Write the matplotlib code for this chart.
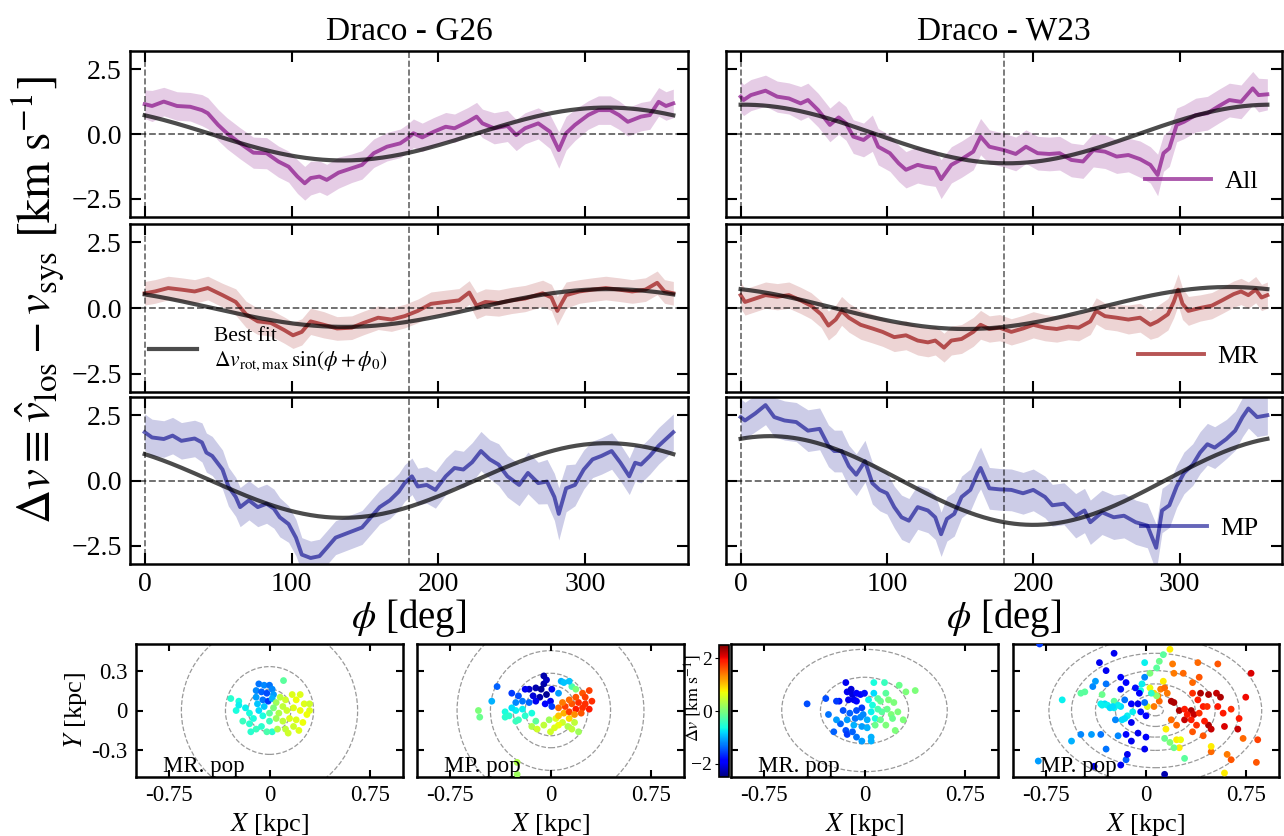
"""Draco rotation signal: running-mean velocity gradients vs position angle + spatial maps."""

import matplotlib

matplotlib.use("Agg")
import matplotlib.pyplot as plt
import numpy as np
from matplotlib.patches import Ellipse

plt.rcParams["font.family"] = ["Liberation Serif", "DejaVu Serif"]
plt.rcParams["mathtext.fontset"] = "stix"

# ---------------------------------------------------------------- data
# Draco - G26, running mean of delta v (km/s) vs position angle phi (deg)
phi_g26_all = [0, 5, 13, 22, 31, 39, 43, 50, 56, 65, 74, 83, 91, 98, 104, 109, 113, 119, 124, 132,
               141, 148, 156, 165, 174, 179, 183, 189, 197, 205, 211, 220, 226, 230, 238, 247, 253,
               259, 268, 276, 282, 287, 293, 302, 309, 317, 323, 329, 338, 344, 350, 355, 360]
dv_g26_all = [1.15, 1.08, 1.25, 1.08, 1.05, 0.92, 0.8, 0.35, 0.03, -0.36, -0.72, -0.74, -1.06, -1.26,
              -1.64, -1.9, -1.7, -1.64, -1.77, -1.49, -1.32, -1.19, -0.74, -0.49, -0.36, -0.17, 0.03,
              -0.13, 0.09, 0.28, 0.22, 0.47, 0.67, 0.41, 0.22, 0.31, -0.04, 0.22, 0.41, 0.09, -0.62,
              0.03, 0.35, 0.73, 0.92, 0.92, 0.73, 0.47, 0.67, 0.73, 1.24, 1.08, 1.18]
err_g26_all = [0.55, 0.6, 0.55, 0.55, 0.55, 0.6, 0.6, 0.6, 0.6, 0.6, 0.6, 0.6, 0.6, 0.6, 0.65, 0.65,
               0.65, 0.6, 0.6, 0.6, 0.55, 0.55, 0.55, 0.55, 0.55, 0.55, 0.55, 0.55, 0.55, 0.55, 0.55,
               0.55, 0.55, 0.55, 0.6, 0.6, 0.6, 0.6, 0.6, 0.65, 0.7, 0.65, 0.6, 0.55, 0.55, 0.55,
               0.55, 0.55, 0.55, 0.55, 0.55, 0.55, 0.55]

phi_g26_mr = [0, 7, 16, 25, 34, 43, 53, 62, 69, 77, 86, 95, 101, 107, 113, 122, 131, 141, 149, 159,
              168, 177, 186, 195, 205, 214, 221, 226, 232, 241, 250, 259, 271, 277, 281, 287, 296,
              305, 314, 323, 332, 341, 349, 354, 360]
dv_g26_mr = [0.56, 0.63, 0.76, 0.7, 0.63, 0.76, 0.49, 0.23, -0.24, -0.51, -0.57, -0.84, -1.04, -0.91,
             -0.51, -0.64, -0.78, -0.75, -0.57, -0.37, -0.44, -0.31, -0.11, 0.16, 0.23, 0.29, 0.59,
             0.09, 0.23, 0.19, 0.29, 0.36, 0.56, 0.4, -0.11, 0.49, 0.63, 0.7, 0.76, 0.7, 0.63, 0.7,
             0.96, 0.63, 0.56]
err_g26_mr = [0.45, 0.45, 0.45, 0.45, 0.45, 0.45, 0.45, 0.5, 0.5, 0.5, 0.5, 0.5, 0.5, 0.5, 0.5, 0.5,
              0.45, 0.45, 0.45, 0.45, 0.45, 0.45, 0.45, 0.45, 0.45, 0.45, 0.45, 0.5, 0.5, 0.5, 0.5,
              0.5, 0.5, 0.5, 0.55, 0.5, 0.45, 0.45, 0.45, 0.45, 0.45, 0.45, 0.45, 0.45, 0.45]

phi_g26_mp = [0, 5, 13, 19, 25, 34, 39, 42, 46, 53, 57, 62, 65, 71, 77, 83, 88, 92, 98, 103, 107,
              113, 119, 124, 130, 136, 142, 148, 154, 160, 167, 173, 177, 182, 186, 192, 198, 205,
              211, 217, 223, 229, 235, 241, 247, 255, 261, 268, 274, 279, 282, 287, 293, 299, 305,
              311, 318, 324, 330, 334, 338, 344, 350, 355, 360]
dv_g26_mp = [1.85, 1.65, 1.59, 1.72, 1.52, 1.61, 1.46, 1.07, 0.94, 0.42, -0.23, -0.63, -1.02, -0.76,
             -1.02, -0.89, -1.08, -1.41, -1.67, -2.19, -2.84, -2.97, -2.9, -2.58, -2.19, -2.06, -1.93,
             -1.8, -1.41, -1.02, -0.76, -0.43, -0.1, 0.16, -0.23, -0.17, -0.36, 0.16, 0.48, 0.42,
             0.7, 1.13, 0.81, 0.61, 0.16, -0.17, 0.29, -0.1, -0.04, -0.63, -1.28, -0.3, -0.17, 0.42,
             0.81, 0.94, 1.13, 0.68, 0.16, 0.68, 0.61, 0.94, 1.33, 1.59, 1.85]
err_g26_mp = [0.7, 0.7, 0.7, 0.7, 0.7, 0.7, 0.75, 0.75, 0.75, 0.75, 0.75, 0.75, 0.75, 0.75, 0.75,
              0.75, 0.75, 0.75, 0.7, 0.7, 0.65, 0.65, 0.65, 0.65, 0.65, 0.65, 0.65, 0.65, 0.65, 0.65,
              0.7, 0.7, 0.7, 0.7, 0.7, 0.7, 0.7, 0.7, 0.7, 0.7, 0.75, 0.75, 0.75, 0.8, 0.8, 0.8, 0.8,
              0.8, 0.85, 0.9, 1.0, 0.9, 0.8, 0.75, 0.7, 0.7, 0.7, 0.7, 0.7, 0.7, 0.7, 0.7, 0.7, 0.7,
              0.7]

# Draco - W23
phi_w23_all = [0, 2, 7, 17, 25, 33, 41, 46, 53, 61, 67, 72, 77, 84, 90, 94, 102, 108, 113, 121, 126,
               133, 137, 144, 151, 159, 164, 170, 180, 188, 195, 203, 211, 218, 226, 234, 241, 249,
               257, 265, 273, 280, 285, 289, 293, 298, 303, 311, 319, 327, 334, 342, 350, 354, 360]
dv_w23_all = [1.44, 1.31, 1.5, 1.67, 1.44, 1.37, 1.18, 1.31, 0.92, 0.35, 0.64, 0.41, -0.1, -0.23,
              0.03, -0.49, -0.74, -1.13, -1.38, -1.19, -1.26, -1.32, -1.74, -1.19, -0.97, -0.68,
              -0.1, -0.49, -0.62, -0.77, -0.49, -0.74, -0.77, -0.74, -1.0, -1.06, -0.62, -0.68,
              -0.87, -0.81, -0.97, -1.19, -1.58, -0.74, -0.55, 0.35, 0.47, 0.73, 0.8, 1.08, 1.31,
              1.24, 1.76, 1.5, 1.53]
err_w23_all = [0.6, 0.6, 0.6, 0.6, 0.6, 0.6, 0.65, 0.65, 0.65, 0.65, 0.65, 0.65, 0.65, 0.65, 0.7,
               0.7, 0.7, 0.7, 0.7, 0.7, 0.7, 0.7, 0.75, 0.7, 0.7, 0.7, 0.7, 0.65, 0.65, 0.65, 0.65,
               0.65, 0.65, 0.65, 0.65, 0.65, 0.65, 0.65, 0.65, 0.65, 0.7, 0.7, 0.8, 0.7, 0.7, 0.65,
               0.65, 0.65, 0.65, 0.65, 0.65, 0.65, 0.65, 0.65, 0.6]

phi_w23_mr = [0, 3, 10, 17, 25, 33, 41, 48, 55, 60, 65, 69, 74, 82, 90, 97, 105, 113, 121, 128, 133,
              139, 144, 151, 159, 164, 170, 177, 185, 193, 200, 208, 216, 224, 231, 239, 243, 249,
              257, 265, 273, 280, 285, 292, 296, 299, 302, 306, 314, 322, 329, 337, 342, 347, 352,
              356, 360]
dv_w23_mr = [0.49, 0.23, 0.36, 0.49, 0.43, 0.49, 0.29, 0.09, -0.24, -0.67, -0.44, -0.11, -0.37,
             -0.64, -0.78, -0.91, -1.11, -1.04, -1.24, -1.31, -1.24, -1.51, -1.24, -1.18, -0.91,
             -0.64, -0.8, -0.75, -0.91, -0.78, -0.64, -0.75, -0.8, -0.71, -0.75, -0.51, -0.11,
             -0.31, -0.37, -0.44, -0.37, -0.64, -0.51, -0.24, 0.23, 0.7, 0.16, -0.11, 0.0, 0.09,
             0.29, 0.53, 0.63, 0.49, 0.7, 0.4, 0.49]
err_w23_mr = [0.5, 0.5, 0.5, 0.5, 0.5, 0.5, 0.5, 0.5, 0.5, 0.55, 0.55, 0.55, 0.55, 0.55, 0.55, 0.55,
              0.55, 0.55, 0.55, 0.55, 0.55, 0.55, 0.55, 0.55, 0.55, 0.55, 0.5, 0.5, 0.5, 0.5, 0.5,
              0.5, 0.5, 0.5, 0.5, 0.5, 0.5, 0.5, 0.5, 0.55, 0.55, 0.55, 0.6, 0.6, 0.6, 0.6, 0.6,
              0.55, 0.5, 0.5, 0.5, 0.5, 0.5, 0.5, 0.5, 0.5, 0.5]

phi_w23_mp = [0, 3, 10, 17, 23, 30, 38, 46, 54, 60, 64, 69, 74, 79, 85, 90, 95, 100, 105, 110, 115,
              121, 128, 133, 137, 141, 146, 151, 157, 162, 164, 170, 177, 185, 193, 200, 208, 213,
              221, 229, 235, 239, 247, 255, 262, 270, 278, 284, 288, 293, 298, 303, 309, 314, 319,
              324, 332, 338, 343, 347, 353, 360]
dv_w23_mp = [2.43, 2.3, 2.57, 2.89, 2.43, 2.3, 2.24, 1.91, 1.98, 1.33, 1.13, 1.13, 0.55, 0.22, 0.74,
             -0.1, -0.36, -0.49, -1.02, -1.41, -1.54, -1.02, -1.15, -1.41, -2.06, -1.47, -1.28,
             -0.63, -0.36, 0.29, 0.48, -0.3, -0.34, -0.36, -0.49, -0.36, -0.63, -0.95, -0.89, -1.35,
             -1.15, -1.6, -1.22, -1.41, -1.35, -1.6, -1.73, -2.58, -1.15, -0.95, -0.23, 0.29, 0.61,
             1.07, 1.39, 1.26, 1.59, 1.91, 2.43, 2.76, 2.43, 2.5]
err_w23_mp = [0.7, 0.7, 0.7, 0.75, 0.75, 0.75, 0.75, 0.8, 0.8, 0.8, 0.8, 0.8, 0.8, 0.8, 0.8, 0.8,
              0.8, 0.8, 0.8, 0.85, 0.85, 0.85, 0.85, 0.85, 0.85, 0.85, 0.85, 0.8, 0.8, 0.8, 0.8, 0.8,
              0.8, 0.8, 0.8, 0.8, 0.8, 0.8, 0.8, 0.85, 0.85, 0.85, 0.85, 0.85, 0.85, 0.85, 0.85, 0.9,
              0.85, 0.85, 0.8, 0.8, 0.8, 0.8, 0.8, 0.8, 0.75, 0.75, 0.75, 0.75, 0.75, 0.75]

# best-fit rotation model: amplitude (km/s) and phase offset (deg)
fit_amp_g26 = {"All": 1.02, "MR": 0.72, "MP": 1.43}
fit_phase_g26 = {"All": 135, "MR": 134, "MP": 135}
fit_amp_w23 = {"All": 1.13, "MR": 0.80, "MP": 1.70}
fit_phase_w23 = {"All": 88, "MR": 116, "MP": 70}

phi_marks = [0, 180]
pops = ["All", "MR", "MP"]

# spatial maps: (X kpc, Y kpc, delta v km/s) per star
stars_g26_mr = [
    (-0.08, 0.2, -1.3), (-0.04, 0.19, -1.2), (0.0, 0.19, -1.3), (0.02, 0.16, -1.2), (-0.1, 0.15, -1.2),
    (-0.06, 0.14, -1.4), (-0.02, 0.13, -1.5), (0.03, 0.12, -1.1), (-0.1, 0.1, -1.1), (-0.05, 0.08, -1.3),
    (-0.01, 0.07, -1.6), (0.02, 0.09, -1.0), (-0.09, 0.05, -0.9), (0.105, 0.225, -0.2),
    (-0.29, 0.09, -0.5), (-0.23, 0.07, -0.6), (-0.25, 0.0, -0.6), (-0.23, 0.04, -0.7), (-0.18, 0.02, -0.7),
    (-0.15, -0.02, -0.6), (-0.2, -0.08, -0.4), (-0.15, -0.1, -0.5), (-0.12, -0.06, -0.6), (-0.1, -0.14, -0.4),
    (-0.14, -0.16, -0.5), (-0.06, -0.12, -0.5), (-0.05, -0.04, -0.6), (0.0, -0.08, -0.4), (0.02, -0.16, -0.5),
    (-0.08, 0.0, -0.8), (-0.04, 0.03, -0.9),
    (0.05, 0.06, 0.2), (0.08, 0.1, 0.4), (0.12, 0.08, 0.5), (0.17, 0.12, 0.6), (0.2, 0.08, 0.7),
    (0.23, 0.12, 0.6), (0.26, 0.05, 0.6), (0.3, 0.05, 0.5), (0.3, 0.0, 0.6), (0.28, -0.03, 0.7),
    (0.23, 0.0, 0.7), (0.18, 0.02, 0.6), (0.13, 0.0, 0.5), (0.1, 0.03, 0.4), (0.07, -0.02, 0.3),
    (0.05, -0.06, 0.2), (0.1, -0.08, 0.4), (0.15, -0.06, 0.6), (0.2, -0.07, 0.6), (0.25, -0.09, 0.7),
    (0.18, -0.12, 0.5), (0.12, -0.14, 0.4), (0.06, -0.14, 0.3), (0.14, -0.17, 0.5), (0.22, -0.15, 0.6),
    (0.03, 0.02, 0.0), (0.0, -0.02, -0.2), (-0.02, -0.16, -0.3),
]
stars_g26_mp = [
    (-0.16, 0.16, -2.2), (-0.11, 0.17, -2.3), (-0.05, 0.2, -2.3), (-0.03, 0.23, -2.2), (-0.07, 0.16, -2.4),
    (-0.13, 0.11, -2.1), (-0.08, 0.1, -2.3), (-0.03, 0.12, -2.4), (0.01, 0.16, -2.0), (0.0, 0.07, -2.0),
    (-0.04, 0.05, -1.9), (-0.11, 0.07, -2.0), (-0.19, 0.16, -2.0), (-0.05, 0.26, -2.3),
    (-0.29, 0.13, -1.6), (-0.4, 0.18, -1.4), (-0.24, 0.11, -1.5), (-0.21, 0.07, -1.3), (-0.26, 0.06, -1.2),
    (-0.16, 0.06, -1.4), (0.01, 0.03, -1.6),
    (-0.44, 0.07, -1.0), (0.08, 0.22, -1.0), (0.1, 0.21, -0.9), (0.06, 0.13, -1.1),
    (-0.34, -0.01, -0.6), (-0.31, -0.04, -0.5), (-0.26, 0.0, -0.7), (-0.24, -0.07, -0.4), (-0.19, -0.04, -0.5),
    (-0.14, -0.02, -0.6), (-0.11, -0.08, -0.2), (-0.29, 0.02, -0.8), (-0.21, 0.01, -0.7), (-0.34, -0.05, -0.5),
    (-0.26, -0.08, -0.4),
    (-0.54, 0.0, 0.0), (-0.53, -0.05, -0.1),
    (-0.14, -0.12, 0.3), (-0.1, -0.14, 0.5), (-0.05, -0.11, 0.4), (-0.01, -0.07, 0.2), (0.04, -0.06, 0.6),
    (0.09, -0.09, 0.5), (0.13, -0.12, 0.3), (0.18, -0.09, 0.4), (0.21, -0.16, 0.2), (0.16, -0.14, 0.4),
    (0.06, -0.11, 0.7), (0.03, -0.13, 0.6), (0.0, -0.16, 0.5),
    (0.06, -0.04, 1.0), (0.1, -0.02, 1.1), (0.14, -0.06, 0.9),
    (0.24, 0.13, 1.6), (0.29, 0.15, 1.7), (0.31, 0.07, 1.8), (0.26, 0.1, 1.7), (0.21, 0.06, 1.8),
    (0.16, 0.05, 1.6), (0.11, 0.03, 1.7), (0.06, 0.02, 1.5), (0.09, 0.06, 1.4), (0.14, 0.08, 1.5),
    (0.19, 0.1, 1.6), (0.24, 0.02, 1.8), (0.29, 0.01, 1.9), (0.19, 0.01, 1.9), (0.14, -0.01, 1.7),
    (0.26, 0.05, 1.8), (0.23, -0.02, 1.6), (0.18, -0.03, 1.3),
    (0.16, 0.18, -0.3), (0.14, 0.22, -0.9), (0.19, 0.16, 0.0),
    (-0.25, -0.39, 0.3), (-0.25, -0.48, 0.2),
]
stars_w23_mr = [
    (-0.14, 0.21, -2.0), (-0.13, 0.14, -2.0), (-0.09, 0.12, -2.1), (-0.06, 0.13, -1.9), (-0.03, 0.12, -1.9),
    (-0.08, 0.08, -2.0), (-0.12, 0.08, -2.0), (-0.19, 0.07, -1.8), (0.0, 0.13, -1.8), (-0.06, 0.07, -1.9),
    (-0.1, 0.16, -2.1),
    (-0.43, 0.05, -1.5), (-0.29, 0.09, -1.5), (-0.21, 0.07, -1.6), (-0.27, -0.03, -1.3), (-0.16, 0.0, -1.5),
    (-0.18, -0.1, -1.4), (-0.14, -0.15, -1.5), (-0.13, -0.18, -1.6), (-0.09, -0.16, -1.4), (-0.23, -0.16, -1.4),
    (-0.06, 0.0, -1.5), (-0.11, -0.02, -1.4), (-0.07, -0.06, -1.3), (-0.03, -0.05, -1.2), (-0.02, 0.02, -1.6),
    (-0.06, -0.2, -1.3),
    (-0.21, -0.07, -1.1), (-0.13, -0.07, -1.1), (-0.08, -0.11, -1.0), (-0.02, -0.12, -1.1), (0.02, -0.13, -1.0),
    (0.05, -0.2, -1.0), (-0.02, -0.23, -1.1), (0.05, -0.23, -1.0), (-0.01, -0.03, -1.2), (0.02, -0.07, -1.0),
    (0.07, 0.13, -0.8),
    (0.03, 0.08, -0.7), (0.06, 0.04, -0.6), (0.05, -0.01, -0.7), (0.08, -0.06, -0.6), (0.07, 0.21, -0.6),
    (0.15, 0.21, -0.4),
    (0.12, 0.07, -0.1), (0.16, 0.13, -0.2), (0.18, 0.08, 0.0), (0.22, 0.06, 0.0), (0.25, -0.01, 0.0),
    (0.17, 0.01, -0.1), (0.2, -0.03, 0.0), (0.13, -0.01, -0.2), (0.1, 0.01, -0.3), (0.08, -0.11, -0.1),
    (0.16, -0.11, 0.0), (0.23, -0.15, 0.0), (0.26, 0.19, -0.1), (0.31, 0.14, 0.0), (0.38, 0.15, 0.0),
    (0.29, -0.07, 0.0), (0.21, -0.06, -0.1), (0.1, 0.09, -0.2), (0.12, -0.07, -0.1),
]
stars_w23_mp = [
    (0.19, 0.07, 2.3), (0.21, 0.06, 2.3), (0.34, 0.0, 2.3), (0.36, -0.03, 2.2), (0.41, 0.13, 2.3),
    (0.47, 0.12, 2.3), (0.53, 0.13, 2.2), (0.56, 0.1, 2.3), (0.47, -0.11, 2.3), (0.49, -0.14, 2.2),
    (0.59, -0.12, 2.1), (0.69, -0.14, 2.2), (0.79, 0.28, 2.1), (0.75, 0.1, 2.0), (0.29, -0.07, 2.2),
    (0.25, 0.0, 2.3),
    (0.29, 0.01, 1.9), (0.31, -0.03, 1.9), (0.35, 0.13, 1.8), (0.39, 0.08, 1.9), (0.43, 0.03, 1.9),
    (0.46, 0.03, 1.8), (0.54, 0.03, 1.9), (0.58, -0.02, 1.9), (0.64, 0.01, 1.8), (0.7, -0.06, 1.9),
    (0.84, -0.22, 1.7), (0.4, -0.02, 1.8), (0.44, -0.08, 1.9), (0.38, -0.11, 1.8), (0.34, -0.07, 1.9),
    (0.11, 0.16, 1.4), (0.14, 0.17, 1.5), (0.16, 0.13, 1.4), (0.09, 0.11, 1.3), (0.1, 0.07, 1.5),
    (0.06, 0.03, 1.4), (0.19, -0.07, 1.5), (0.23, -0.11, 1.5), (0.35, -0.16, 1.6), (0.39, 0.36, 1.5),
    (0.54, 0.35, 1.6), (0.21, 0.28, 1.4), (0.28, 0.28, 1.5), (0.35, 0.21, 1.5), (0.4, 0.25, 1.6),
    (0.43, -0.19, 1.6), (0.49, -0.31, 1.5), (0.61, -0.33, 1.4), (0.64, -0.37, 1.6), (0.83, -0.39, 1.6),
    (0.73, -0.21, 1.5), (0.2, 0.35, 1.4),
    (0.18, 0.46, 0.8), (0.13, 0.22, 0.8), (0.03, 0.17, 0.7), (0.06, 0.13, 0.9), (0.15, -0.14, 0.8),
    (0.23, -0.22, 0.8), (0.26, -0.22, 0.7), (0.25, -0.28, 0.8), (0.49, -0.27, 0.8), (0.59, -0.47, 0.8),
    (0.01, 0.03, 0.6),
    (0.13, 0.42, -0.2), (0.1, 0.37, -0.1), (0.08, 0.32, -0.2), (0.03, 0.28, 0.0), (-0.49, 0.13, -0.2),
    (-0.46, 0.14, -0.2), (-0.33, 0.12, -0.1), (-0.24, 0.07, -0.2), (0.08, 0.11, 0.1), (0.14, -0.21, -0.1),
    (0.18, -0.24, 0.0), (0.21, -0.28, -0.1), (0.29, -0.36, -0.2),
    (-0.01, 0.36, -0.7), (-0.34, 0.05, -0.7), (-0.31, 0.05, -0.8), (-0.29, 0.04, -0.7), (-0.27, 0.02, -0.8),
    (-0.24, 0.02, -0.7), (-0.19, 0.03, -0.8), (-0.21, 0.04, -0.7), (-0.25, 0.03, -0.8), (-0.63, 0.08, -0.7),
    (-0.14, -0.04, -0.7), (-0.16, -0.06, -0.8), (-0.1, -0.01, -0.7), (-0.04, 0.15, -0.6), (0.04, 0.13, -0.5),
    (-0.03, 0.2, -0.7), (-0.33, 0.04, -0.7), (-0.18, -0.07, -0.8),
    (-0.4, 0.18, -1.2), (-0.3, 0.2, -1.3), (-0.38, 0.22, -1.1), (-0.16, 0.08, -1.3), (-0.23, -0.07, -1.2),
    (-0.21, -0.19, -1.2), (-0.41, -0.18, -1.1), (-0.34, -0.18, -1.3), (-0.56, -0.23, -1.0), (-0.49, -0.18, -1.2),
    (-0.81, -0.38, -1.1), (-0.3, -0.29, -1.3), (-0.15, -0.37, -1.4), (-0.01, 0.25, -1.2), (-0.01, 0.06, -1.3),
    (-0.24, 0.43, -2.0), (-0.35, 0.36, -2.0), (-0.3, 0.3, -2.0), (-0.19, 0.25, -1.9), (-0.15, 0.21, -1.9),
    (-0.08, 0.17, -1.8), (-0.05, 0.13, -1.9), (-0.11, 0.05, -1.9), (-0.06, 0.05, -2.0), (-0.04, -0.01, -1.8),
    (0.0, -0.04, -1.9), (-0.11, -0.09, -2.0), (-0.06, -0.17, -2.0), (0.0, -0.2, -1.9), (-0.11, -0.23, -2.0),
    (-0.15, -0.18, -1.9), (-0.01, -0.29, -2.0), (-0.19, 0.16, -1.8), (-0.14, -0.33, -2.0), (-0.19, -0.41, -2.0),
    (-0.39, -0.42, -1.9), (0.14, -0.48, -2.3), (-0.8, 0.5, -1.6),
]

# dashed isodensity contours: (centre x, semi-axis a, semi-axis b) in kpc
rings_g26_mr = [(0.0, 0.16, 0.16), (0.0, 0.33, 0.33), (0.0, 0.66, 0.66)]
rings_g26_mp = [(0.0, 0.19, 0.19), (0.0, 0.28, 0.28), (0.0, 0.45, 0.45), (0.0, 0.70, 0.70)]
rings_w23_mr = [(0.0, 0.15, 0.11), (0.0, 0.33, 0.25), (0.0, 0.62, 0.46)]
rings_w23_mp = [(0.07, 0.06, 0.04), (0.07, 0.17, 0.12), (0.07, 0.30, 0.20), (0.07, 0.45, 0.30),
                (0.07, 0.63, 0.43), (0.07, 0.80, 0.55)]

# ---------------------------------------------------------------- style
colors = {"All": "purple", "MR": "brown", "MP": "darkblue"}
line_alpha = {"All": 0.65, "MR": 0.8, "MP": 0.6}

W, H = 1284, 836
fig = plt.figure(figsize=(W / 100, H / 100), dpi=100)


def px_axes(x0, y0, x1, y1):
    """Axes from pixel box (left, top, right, bottom)."""
    return fig.add_axes([x0 / W, 1 - y1 / H, (x1 - x0) / W, (y1 - y0) / H])


def style_axes(ax, length=8, labelsize=20):
    ax.tick_params(direction="in", top=True, right=True, length=length, width=1.5,
                   labelsize=labelsize, pad=6)
    for sp in ax.spines.values():
        sp.set_linewidth(1.8)


series = {
    ("G26", "All"): (phi_g26_all, dv_g26_all, err_g26_all),
    ("G26", "MR"): (phi_g26_mr, dv_g26_mr, err_g26_mr),
    ("G26", "MP"): (phi_g26_mp, dv_g26_mp, err_g26_mp),
    ("W23", "All"): (phi_w23_all, dv_w23_all, err_w23_all),
    ("W23", "MR"): (phi_w23_mr, dv_w23_mr, err_w23_mr),
    ("W23", "MP"): (phi_w23_mp, dv_w23_mp, err_w23_mp),
}
fits = {"G26": (fit_amp_g26, fit_phase_g26), "W23": (fit_amp_w23, fit_phase_w23)}

col_x = {"G26": (130, 688), "W23": (726, 1282)}
row_y = [(51, 217), (224, 392), (397, 564)]
phi_grid = np.linspace(0, 360, 361)

for cat in ["G26", "W23"]:
    amps, phases = fits[cat]
    for i, pop in enumerate(pops):
        ax = px_axes(col_x[cat][0], row_y[i][0], col_x[cat][1], row_y[i][1])
        phi, dv, err = (np.array(a) for a in series[(cat, pop)])
        c = colors[pop]
        ax.fill_between(phi, dv - err, dv + err, color=c, alpha=0.2, lw=0)
        ax.plot(phi, dv, color=c, alpha=line_alpha[pop], lw=2.8, label=pop)
        model = amps[pop] * np.sin(np.radians(phi_grid + phases[pop]))
        ax.plot(phi_grid, model, color="k", alpha=0.7, lw=3,
                label="Best fit\n" + r"$\Delta v_{\rm rot,max}\,\sin(\phi+\phi_0)$")
        ax.axhline(0, color="k", ls="--", lw=1.3, alpha=0.6)
        for pm in phi_marks:
            ax.axvline(pm, color="k", ls="--", lw=1.2, alpha=0.6)
        ax.set_xlim(-10, 370)
        ax.set_ylim(-3.2, 3.2)
        ax.set_xticks([0, 100, 200, 300])
        ax.set_yticks([-2.5, 0, 2.5])
        style_axes(ax)
        if cat == "W23":
            ax.tick_params(labelleft=False)
            h, l = ax.get_legend_handles_labels()
            ax.legend(h[:1], l[:1], loc="lower right", frameon=False, fontsize=19,
                      handlelength=2.5, handletextpad=0.5)
        elif pop == "MR":
            h, l = ax.get_legend_handles_labels()
            ax.legend(h[1:], l[1:], loc="lower left", frameon=False, fontsize=15.5,
                      handlelength=2.2, handletextpad=0.8, labelspacing=0.2)
        if i < 2:
            ax.tick_params(labelbottom=False)
        else:
            ax.set_xlabel(r"$\phi$ [deg]", fontsize=28, labelpad=0)
        if i == 0:
            ax.set_title(f"Draco - {cat}", fontsize=24, pad=8)

fig.text(0.029, 0.641, r"$\Delta v \equiv \hat{v}_{\rm los} - v_{\rm sys}\ [\rm km\ s^{-1}]$",
         rotation=90, fontsize=34, ha="center", va="center")

# ---------------------------------------------------------------- spatial maps
maps = [
    ((136, 403), stars_g26_mr, rings_g26_mr, "MR. pop"),
    ((417, 684), stars_g26_mp, rings_g26_mp, "MP. pop"),
    ((731, 998), stars_w23_mr, rings_w23_mr, "MR. pop"),
    ((1013, 1279), stars_w23_mp, rings_w23_mp, "MP. pop"),
]
sc = None
for k, ((x0, x1), stars, rings, tag) in enumerate(maps):
    ax = px_axes(x0, 644, x1, 777)
    for cx, a, b in rings:
        ax.add_patch(Ellipse((cx, 0), 2 * a, 2 * b, fill=False, ls="--", lw=0.9,
                             edgecolor="grey", alpha=0.8))
    xs, ys, cs = np.array(stars).T
    sc = ax.scatter(xs, ys, c=cs, cmap="jet", vmin=-2.5, vmax=2.5, s=24, lw=0, zorder=3)
    ax.set_xlim(-1, 1)
    ax.set_ylim(-0.5, 0.5)
    ax.set_xticks([-0.75, 0, 0.75], ["-0.75", "0", "0.75"])
    ax.set_yticks([-0.3, 0, 0.3], ["-0.3", "0", "0.3"])
    style_axes(ax, length=5, labelsize=16.5)
    ax.tick_params(pad=6)
    ax.set_xlabel(r"$X$ [kpc]", fontsize=19, labelpad=3)
    if k == 0:
        ax.set_ylabel(r"$Y$ [kpc]", fontsize=19, labelpad=2)
    else:
        ax.tick_params(labelleft=False)
    ax.text(0.1, 0.04, tag, transform=ax.transAxes, fontsize=16.5, zorder=4)

cax = px_axes(719, 645, 729, 777)
cb = fig.colorbar(sc, cax=cax, ticks=[-2, 0, 2])
cax.yaxis.set_ticks_position("left")
cax.tick_params(labelsize=14, length=3, pad=2)
cb.outline.set_linewidth(1.2)
cax.text(-1.5, 0.6, r"$\Delta v\ [\rm km\ s^{-1}]$", transform=cax.transAxes, rotation=90,
         fontsize=13, ha="right", va="center")

fig.savefig("out.png", dpi=100)
plt.close(fig)
